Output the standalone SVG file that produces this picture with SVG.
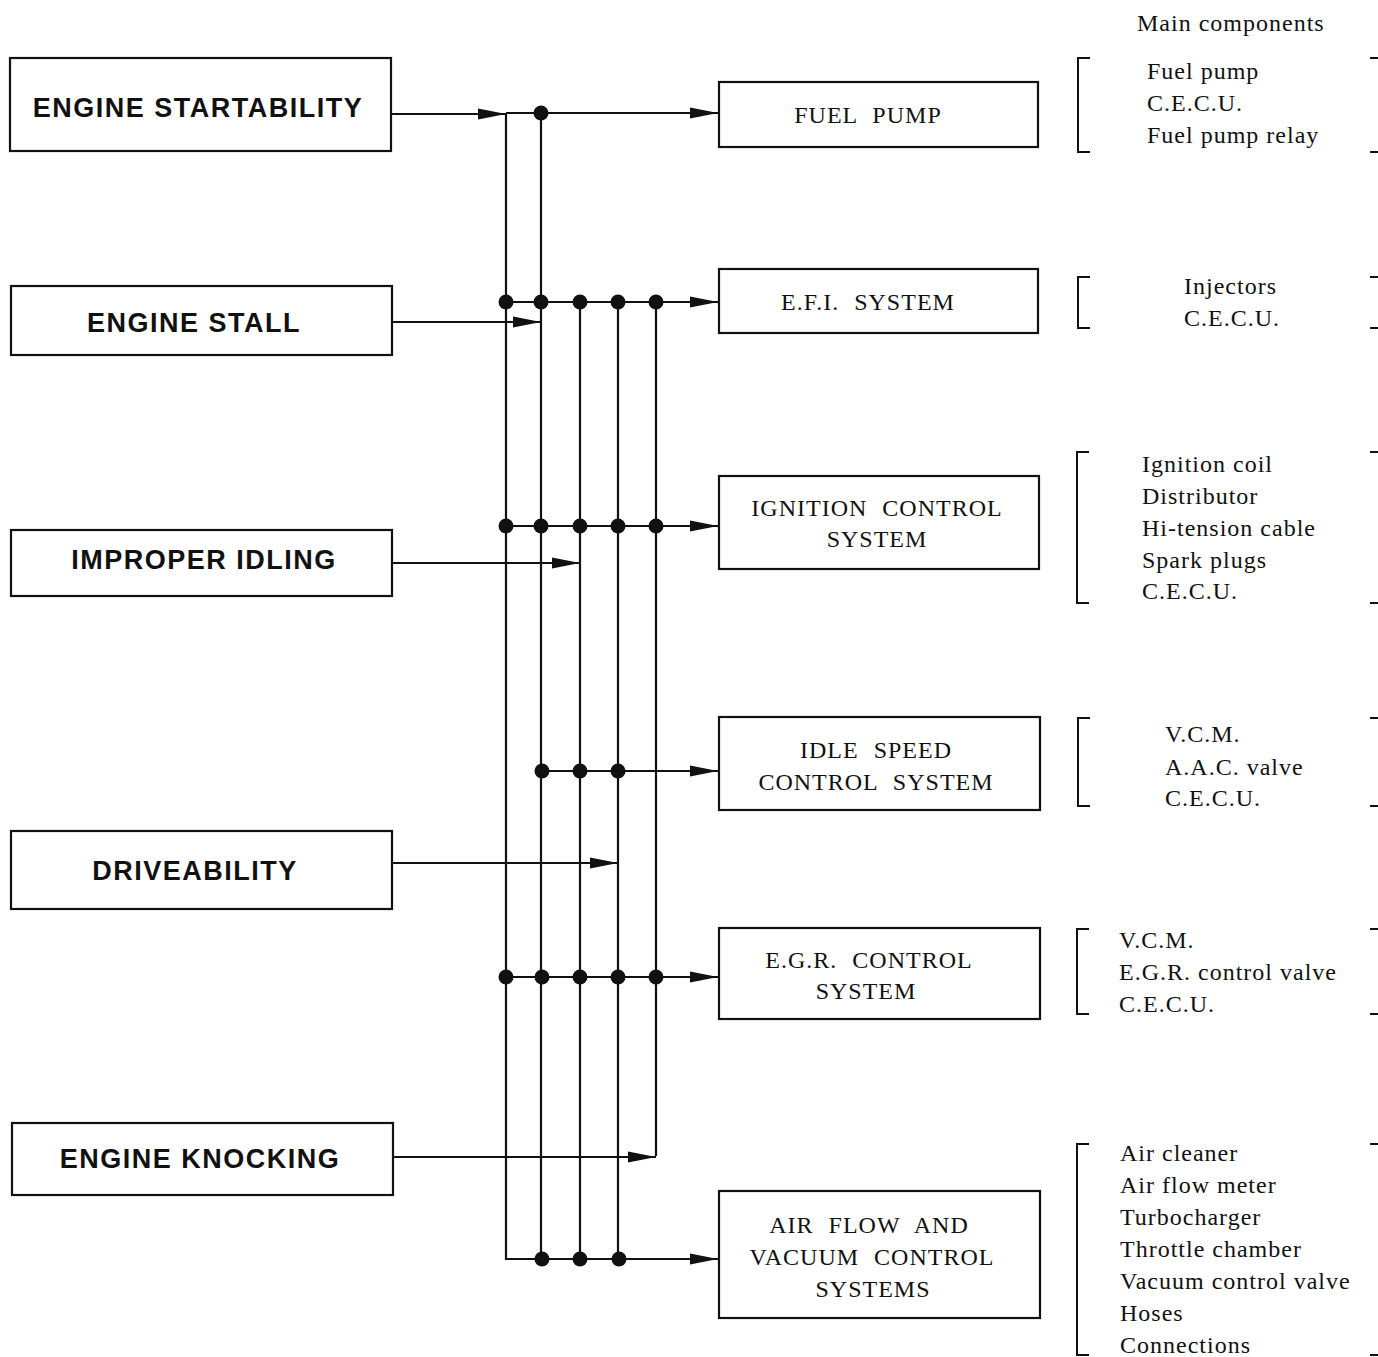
<svg xmlns="http://www.w3.org/2000/svg" width="1378" height="1357" viewBox="0 0 1378 1357">
<style>
.box{fill:#fff;stroke:#111;stroke-width:2.2}
.lt{font-family:"Liberation Sans",Arial,sans-serif;font-weight:bold;font-size:27px;letter-spacing:1.5px;fill:#111;text-anchor:middle}
.rt{font-family:"Liberation Serif","Times New Roman",serif;font-size:24px;letter-spacing:1px;word-spacing:8px;fill:#111;text-anchor:middle}
.ct{font-family:"Liberation Serif","Times New Roman",serif;font-size:24px;letter-spacing:1px;fill:#111}
.ln{fill:none;stroke:#111;stroke-width:2.2}
.ar{fill:none;stroke:#111;stroke-width:2.2;marker-end:url(#ah)}
.dot{fill:#111}
.br{fill:none;stroke:#111;stroke-width:2}
</style>
<defs>
<marker id="ah" markerUnits="userSpaceOnUse" markerWidth="30" markerHeight="14" refX="28" refY="7" orient="auto">
<path d="M0,1.5 L28,7 L0,12.5 Z" fill="#111"/>
</marker>
</defs>
<text class="ct" x="1137" y="31">Main components</text>
<g id="n-startability"><rect class="box" x="10" y="58" width="381" height="93"/><text class="lt" x="198" y="117">ENGINE STARTABILITY</text></g>
<g id="n-stall"><rect class="box" x="11" y="286" width="381" height="69"/><text class="lt" x="194" y="332">ENGINE STALL</text></g>
<g id="n-idling"><rect class="box" x="11" y="530" width="381" height="66"/><text class="lt" x="204" y="569">IMPROPER IDLING</text></g>
<g id="n-drive"><rect class="box" x="11" y="831" width="381" height="78"/><text class="lt" x="195" y="880">DRIVEABILITY</text></g>
<g id="n-knock"><rect class="box" x="12" y="1123" width="381" height="72"/><text class="lt" x="200" y="1168">ENGINE KNOCKING</text></g>
<g id="n-fuelpump"><rect class="box" x="719" y="82" width="319" height="65"/><text class="rt" x="868" y="123">FUEL PUMP</text></g>
<g id="n-efi"><rect class="box" x="719" y="269" width="319" height="64"/><text class="rt" x="868" y="310">E.F.I. SYSTEM</text></g>
<g id="n-ignition"><rect class="box" x="719" y="476" width="320" height="93"/><text class="rt" x="877" y="516">IGNITION CONTROL</text><text class="rt" x="877" y="547">SYSTEM</text></g>
<g id="n-idle"><rect class="box" x="719" y="717" width="321" height="93"/><text class="rt" x="876" y="758">IDLE SPEED</text><text class="rt" x="876" y="790">CONTROL SYSTEM</text></g>
<g id="n-egr"><rect class="box" x="719" y="928" width="321" height="91"/><text class="rt" x="869" y="968">E.G.R. CONTROL</text><text class="rt" x="866" y="999">SYSTEM</text></g>
<g id="n-airflow"><rect class="box" x="719" y="1191" width="321" height="127"/><text class="rt" x="869" y="1233">AIR FLOW AND</text><text class="rt" x="872" y="1265">VACUUM CONTROL</text><text class="rt" x="873" y="1297">SYSTEMS</text></g>
<g id="connectors">
<path class="ar" d="M391,114 H506"/>
<path class="ar" d="M506,113 H718"/>
<path class="ar" d="M506,113 V1259 H718"/>
<path class="ln" d="M541,113 V1259"/>
<path class="ln" d="M580,302 V1259"/>
<path class="ln" d="M618,302 V1259"/>
<path class="ln" d="M656,302 V1156"/>
<path class="ar" d="M392,322 H541"/>
<path class="ar" d="M392,563 H580"/>
<path class="ar" d="M392,863 H618"/>
<path class="ar" d="M393,1157 H656"/>
<path class="ar" d="M506,302 H718"/>
<path class="ar" d="M506,526 H718"/>
<path class="ar" d="M541,771 H718"/>
<path class="ar" d="M506,977 H718"/>
<g class="dot">
<circle cx="541" cy="113" r="7.5"/>
<circle cx="506" cy="302" r="7.5"/><circle cx="541" cy="302" r="7.5"/><circle cx="580" cy="302" r="7.5"/><circle cx="618" cy="302" r="7.5"/><circle cx="656" cy="302" r="7.5"/>
<circle cx="506" cy="526" r="7.5"/><circle cx="541" cy="526" r="7.5"/><circle cx="580" cy="526" r="7.5"/><circle cx="618" cy="526" r="7.5"/><circle cx="656" cy="526" r="7.5"/>
<circle cx="542" cy="771" r="7.5"/><circle cx="580" cy="771" r="7.5"/><circle cx="618" cy="771" r="7.5"/>
<circle cx="506" cy="977" r="7.5"/><circle cx="542" cy="977" r="7.5"/><circle cx="580" cy="977" r="7.5"/><circle cx="618" cy="977" r="7.5"/><circle cx="656" cy="977" r="7.5"/>
<circle cx="542" cy="1259" r="7.5"/><circle cx="580" cy="1259" r="7.5"/><circle cx="619" cy="1259" r="7.5"/>
</g>
</g>
<g id="components">
<path class="br" d="M1090,58 H1078 V152 H1090 M1370,58 H1378 M1370,152 H1378"/>
<text class="ct" x="1147" y="79">Fuel pump</text>
<text class="ct" x="1147" y="111">C.E.C.U.</text>
<text class="ct" x="1147" y="143">Fuel pump relay</text>
<path class="br" d="M1090,277 H1078 V328 H1090 M1370,277 H1378 M1370,328 H1378"/>
<text class="ct" x="1184" y="294">Injectors</text>
<text class="ct" x="1184" y="326">C.E.C.U.</text>
<path class="br" d="M1089,452 H1077 V603 H1089 M1370,452 H1378 M1370,603 H1378"/>
<text class="ct" x="1142" y="472">Ignition coil</text>
<text class="ct" x="1142" y="504">Distributor</text>
<text class="ct" x="1142" y="536">Hi-tension cable</text>
<text class="ct" x="1142" y="568">Spark plugs</text>
<text class="ct" x="1142" y="599">C.E.C.U.</text>
<path class="br" d="M1090,718 H1078 V806 H1090 M1370,718 H1378 M1370,806 H1378"/>
<text class="ct" x="1165" y="742">V.C.M.</text>
<text class="ct" x="1165" y="775">A.A.C. valve</text>
<text class="ct" x="1165" y="806">C.E.C.U.</text>
<path class="br" d="M1089,929 H1077 V1014 H1089 M1370,929 H1378 M1370,1014 H1378"/>
<text class="ct" x="1119" y="948">V.C.M.</text>
<text class="ct" x="1119" y="980">E.G.R. control valve</text>
<text class="ct" x="1119" y="1012">C.E.C.U.</text>
<path class="br" d="M1089,1144 H1077 V1355 H1089 M1370,1144 H1378 M1370,1355 H1378"/>
<text class="ct" x="1120" y="1161">Air cleaner</text>
<text class="ct" x="1120" y="1193">Air flow meter</text>
<text class="ct" x="1120" y="1225">Turbocharger</text>
<text class="ct" x="1120" y="1257">Throttle chamber</text>
<text class="ct" x="1120" y="1289">Vacuum control valve</text>
<text class="ct" x="1120" y="1321">Hoses</text>
<text class="ct" x="1120" y="1353">Connections</text>
</g>
</svg>
